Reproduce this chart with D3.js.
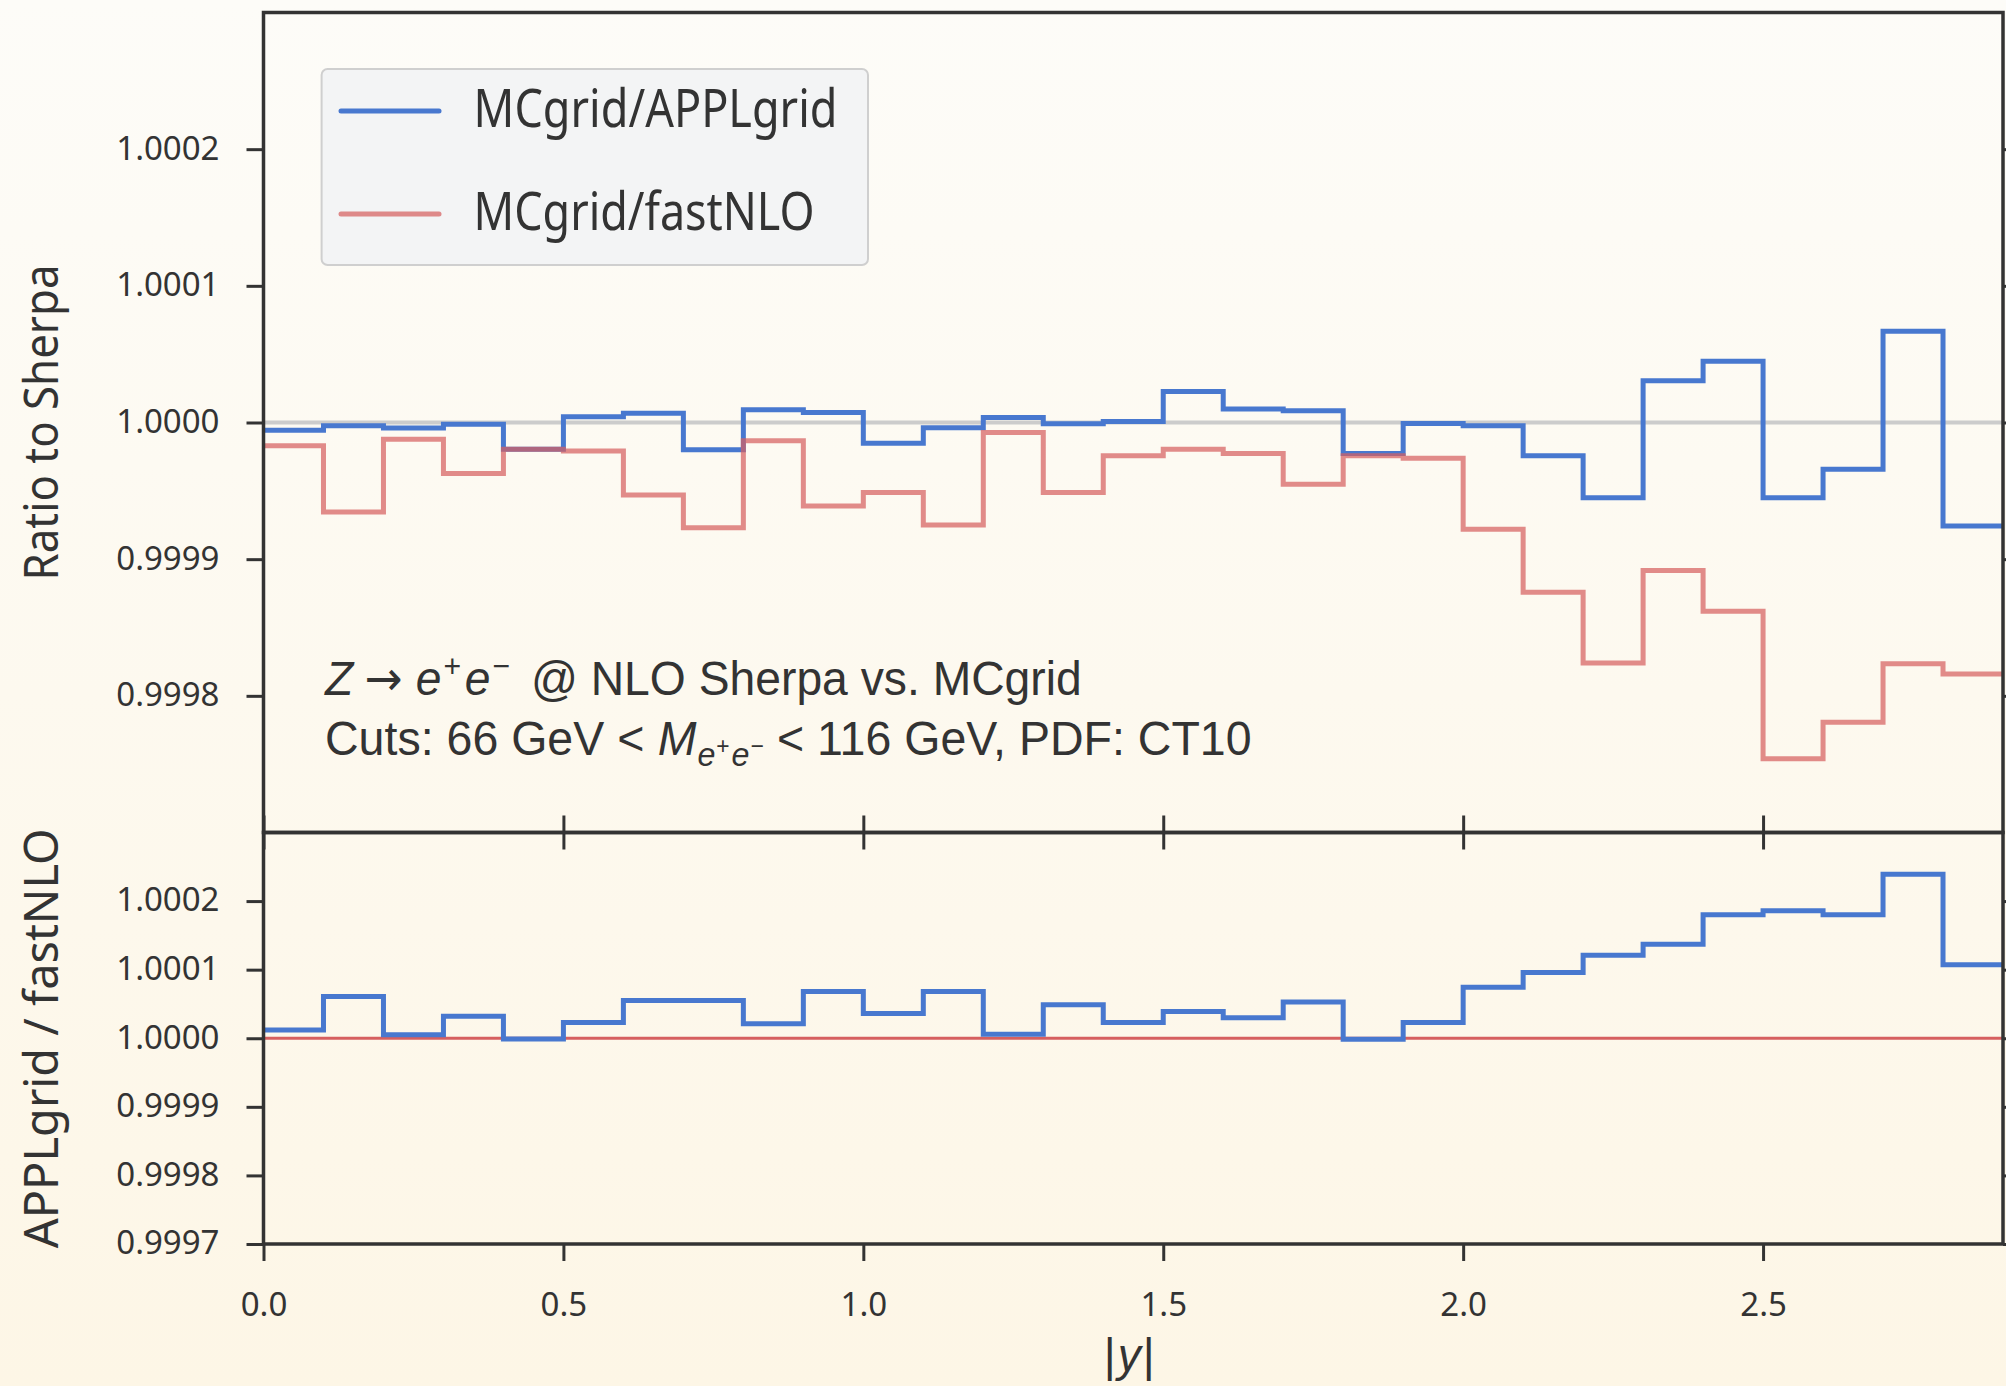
<!DOCTYPE html>
<html>
<head>
<meta charset="utf-8">
<script src="https://cdn.jsdelivr.net/npm/d3@7"></script>
<style>
html,body{margin:0;padding:0;overflow:hidden;}
svg{display:block;}
text{font-family:"Noto Sans",sans-serif;fill:#333;}
</style>
</head>
<body>
<svg id="chart" width="2006" height="1386"></svg>
<script>
// ---------------- data ----------------
const binEdges = [0.0,0.1,0.2,0.3,0.4,0.5,0.6,0.7,0.8,0.9,1.0,1.1,1.2,1.3,1.4,1.5,1.6,1.7,1.8,1.9,2.0,2.1,2.2,2.3,2.4,2.5,2.6,2.7,2.8,2.9];
const seriesNames = ["MCgrid/APPLgrid","MCgrid/fastNLO"];
const mcOverAppl = [0.9999944,0.9999976,0.9999959,0.9999988,0.9999805,1.0000042,1.0000068,0.9999800,1.0000093,1.0000073,0.9999849,0.9999961,1.0000037,0.9999990,1.0000007,1.0000227,1.0000098,1.0000086,0.9999773,0.9999993,0.9999976,0.9999756,0.9999450,1.0000306,1.0000448,0.9999450,0.9999658,1.0000668,0.9999242];
const mcOverFast = [0.9999829,0.9999345,0.9999878,0.9999626,0.9999805,0.9999792,0.9999470,0.9999230,0.9999866,0.9999389,0.9999487,0.9999250,0.9999927,0.9999487,0.9999756,0.9999805,0.9999773,0.9999548,0.9999756,0.9999739,0.9999218,0.9998758,0.9998240,0.9998917,0.9998618,0.9997540,0.9997806,0.9998235,0.9998159];
const applOverFast = [1.000012,1.000061,1.000005,1.000032,0.999999,1.000023,1.000055,1.000055,1.000021,1.000068,1.000036,1.000068,1.000006,1.000049,1.000023,1.000039,1.000030,1.000053,0.9999985,1.000023,1.0000745,1.000096,1.000121,1.000137,1.000180,1.000186,1.000180,1.000239,1.000107];
const fastOverFast = [1.0, 1.0];
const xTicks = [0.0,0.5,1.0,1.5,2.0,2.5];
const xTickLabels = ["0.0","0.5","1.0","1.5","2.0","2.5"];
const yTicksTop = [0.9998,0.9999,1.0000,1.0001,1.0002];
const yTickLabelsTop = ["0.9998","0.9999","1.0000","1.0001","1.0002"];
const yTicksBottom = [0.9997,0.9998,0.9999,1.0000,1.0001,1.0002];
const yTickLabelsBottom = ["0.9997","0.9998","0.9999","1.0000","1.0001","1.0002"];
const yLabelTop = "Ratio to Sherpa";
const yLabelBottom = "APPLgrid / fastNLO";

// ---------------- layout ----------------
const W = 2006, H = 1386;
const xL = 263.5, xR = 2003;
const yTop = 12.5, yMid = 832.5, yBot = 1244;
const blue = "#4878cf", red = "#d65f5f", ink = "#333";

const svg = d3.select("#chart");
const defs = svg.append("defs");
const grad = defs.append("linearGradient").attr("id","bg").attr("x1",0).attr("y1",0).attr("x2",0).attr("y2",1);
grad.append("stop").attr("offset","0%").attr("stop-color","#fdfcf8");
grad.append("stop").attr("offset","100%").attr("stop-color","#fdf6e6");
svg.append("rect").attr("width",W).attr("height",H).attr("fill","url(#bg)");

const x = d3.scaleLinear().domain([binEdges[0], binEdges[binEdges.length-1]]).range([xL,xR]);
const yT = d3.scaleLinear().domain([0.9997,1.0003]).range([yMid,yTop]);
const yB = d3.scaleLinear().domain([0.9997,1.0003]).range([yBot,yMid]);

function stepPts(vals){
  const p = vals.map((v,i)=>[binEdges[i],v]);
  p.push([binEdges[binEdges.length-1], vals[vals.length-1]]);
  return p;
}
const lineT = d3.line().x(d=>x(d[0])).y(d=>yT(d[1])).curve(d3.curveStepAfter);
const lineB = d3.line().x(d=>x(d[0])).y(d=>yB(d[1])).curve(d3.curveStepAfter);

// reference line in top panel
svg.append("path").attr("d", lineT([[binEdges[0],1.0],[binEdges[binEdges.length-1],1.0]]))
  .attr("stroke","#cccccc").attr("stroke-width",4).attr("fill","none");

// top panel series
svg.append("path").attr("d", lineT(stepPts(mcOverAppl)))
  .attr("stroke",blue).attr("stroke-width",5).attr("fill","none").attr("stroke-linejoin","miter");
svg.append("path").attr("d", lineT(stepPts(mcOverFast)))
  .attr("stroke",red).attr("stroke-opacity",0.72).attr("stroke-width",5).attr("fill","none").attr("stroke-linejoin","miter");

// bottom panel
svg.append("path").attr("d", lineB([[binEdges[0],fastOverFast[0]],[binEdges[binEdges.length-1],fastOverFast[1]]]))
  .attr("stroke",red).attr("stroke-width",3).attr("fill","none");
svg.append("path").attr("d", lineB(stepPts(applOverFast)))
  .attr("stroke",blue).attr("stroke-width",5).attr("fill","none").attr("stroke-linejoin","miter");

// ---------------- axes ----------------
function styleAxis(g, showText){
  g.select(".domain").remove();
  g.selectAll(".tick line").attr("stroke",ink).attr("stroke-width",3);
  g.selectAll(".tick text").attr("fill",ink).style("font-family","'Noto Sans',sans-serif").style("font-size","33px");
  if(!showText) g.selectAll(".tick text").remove();
}
const gyT = svg.append("g").attr("transform",`translate(${xL},0)`)
  .call(d3.axisLeft(yT).tickValues(yTicksTop).tickSize(17).tickPadding(27).tickFormat((d,i)=>yTickLabelsTop[i]));
styleAxis(gyT,true);
gyT.selectAll(".tick text").attr("dy","0.30em");
const gyB = svg.append("g").attr("transform",`translate(${xL},0)`)
  .call(d3.axisLeft(yB).tickValues(yTicksBottom).tickSize(17).tickPadding(27).tickFormat((d,i)=>yTickLabelsBottom[i]));
styleAxis(gyB,true);
gyB.selectAll(".tick text").attr("dy","0.30em");
styleAxis(svg.append("g").attr("transform",`translate(${xR},0)`).call(d3.axisRight(yT).tickValues(yTicksTop).tickSize(17)), false);
styleAxis(svg.append("g").attr("transform",`translate(${xR},0)`).call(d3.axisRight(yB).tickValues(yTicksBottom).tickSize(17)), false);
styleAxis(svg.append("g").attr("transform",`translate(0,${yMid})`).call(d3.axisBottom(x).tickValues(xTicks).tickSize(17)), false);
styleAxis(svg.append("g").attr("transform",`translate(0,${yMid})`).call(d3.axisTop(x).tickValues(xTicks).tickSize(17)), false);
const gx = svg.append("g").attr("transform",`translate(0,${yBot})`)
  .call(d3.axisBottom(x).tickValues(xTicks).tickSize(17).tickFormat((d,i)=>xTickLabels[i]));
styleAxis(gx,true);
gx.selectAll(".tick text").attr("y",72).attr("dy",0);

// spines
const spine = svg.append("g").attr("fill","none").attr("stroke",ink).attr("stroke-width",3.5);
spine.append("rect").attr("x",xL).attr("y",yTop).attr("width",xR-xL).attr("height",yMid-yTop);
spine.append("rect").attr("x",xL).attr("y",yMid).attr("width",xR-xL).attr("height",yBot-yMid);

// ---------------- text helpers ----------------
function fit(g, target){
  const w = g.select("text").node().getBBox().width;
  return w>0 ? target/w : 1;
}

function yLabel(txt, cy, len){
  const g = svg.append("g");
  g.append("text").attr("text-anchor","middle").style("font-size","47px").attr("fill",ink).text(txt);
  const s = fit(g, len);
  g.attr("transform",`translate(58,${cy}) rotate(-90) scale(${s},1)`);
}
yLabel(yLabelTop, (yTop+yMid)/2, 316);
yLabel(yLabelBottom, (yMid+yBot)/2, 420);

// x label |y|
const xl = svg.append("text").attr("x",(xL+xR)/2 - 4).attr("y",1371).attr("text-anchor","middle")
  .style("font-family","'Liberation Sans',Arial,sans-serif").style("font-size","46px").attr("fill",ink);
xl.append("tspan").text("|");
xl.append("tspan").attr("dx",2).style("font-style","italic").text("y");
xl.append("tspan").attr("dx",2).text("|");

// ---------------- legend ----------------
const lg = svg.append("g");
lg.append("rect").attr("x",321.6).attr("y",69).attr("width",546.4).attr("height",196).attr("rx",6)
  .attr("fill","#f3f4f5").attr("stroke","#cfcfcf").attr("stroke-width",2);
const legendItems = [
  {name: seriesNames[0], color: blue, op: 1, ly: 111, by: 126.7, w: 364},
  {name: seriesNames[1], color: red, op: 0.72, ly: 214, by: 230, w: 341}
];
legendItems.forEach(it=>{
  lg.append("line").attr("x1",341).attr("x2",439).attr("y1",it.ly).attr("y2",it.ly)
    .attr("stroke",it.color).attr("stroke-opacity",it.op).attr("stroke-width",5).attr("stroke-linecap","round");
  const g = lg.append("g");
  g.append("text").style("font-size","53px").attr("fill",ink).text(it.name);
  const s = fit(g, it.w);
  g.attr("transform",`translate(473.6,${it.by}) scale(${s},1)`);
});

// ---------------- annotation ----------------
const annFont = "'Liberation Sans',Arial,sans-serif";
const a1 = svg.append("g");
const t1 = a1.append("text").style("font-family",annFont).style("font-size","49px").attr("fill",ink);
t1.append("tspan").style("font-style","italic").text("Z");
t1.append("tspan").attr("dx",12).style("font-family","'DejaVu Sans',sans-serif").style("font-size","48px").text("\u2192");
t1.append("tspan").attr("dx",14).style("font-style","italic").text("e");
t1.append("tspan").attr("dx",2).attr("dy",-18).style("font-size","32px").text("+");
t1.append("tspan").attr("dx",4).attr("dy",18).style("font-style","italic").text("e");
t1.append("tspan").attr("dx",2).attr("dy",-18).style("font-size","32px").text("\u2212");
t1.append("tspan").attr("dx",22).attr("dy",18).text("@ NLO Sherpa vs. MCgrid");
a1.attr("transform",`translate(325,695) scale(${fit(a1,758)},1)`);

const a2 = svg.append("g");
const t2 = a2.append("text").style("font-family",annFont).style("font-size","49px").attr("fill",ink);
t2.append("tspan").text("Cuts:  66 GeV <");
t2.append("tspan").attr("dx",14).style("font-style","italic").text("M");
t2.append("tspan").attr("dx",1).attr("dy",11).style("font-size","34px").style("font-style","italic").text("e");
t2.append("tspan").attr("dx",1).attr("dy",-12).style("font-size","24px").text("+");
t2.append("tspan").attr("dx",2).attr("dy",12).style("font-size","34px").style("font-style","italic").text("e");
t2.append("tspan").attr("dx",1).attr("dy",-12).style("font-size","24px").text("\u2212");
t2.append("tspan").attr("dx",14).attr("dy",1).text("< 116 GeV, PDF:  CT10");
a2.attr("transform",`translate(325,755) scale(${fit(a2,927)},1)`);
</script>
</body>
</html>
